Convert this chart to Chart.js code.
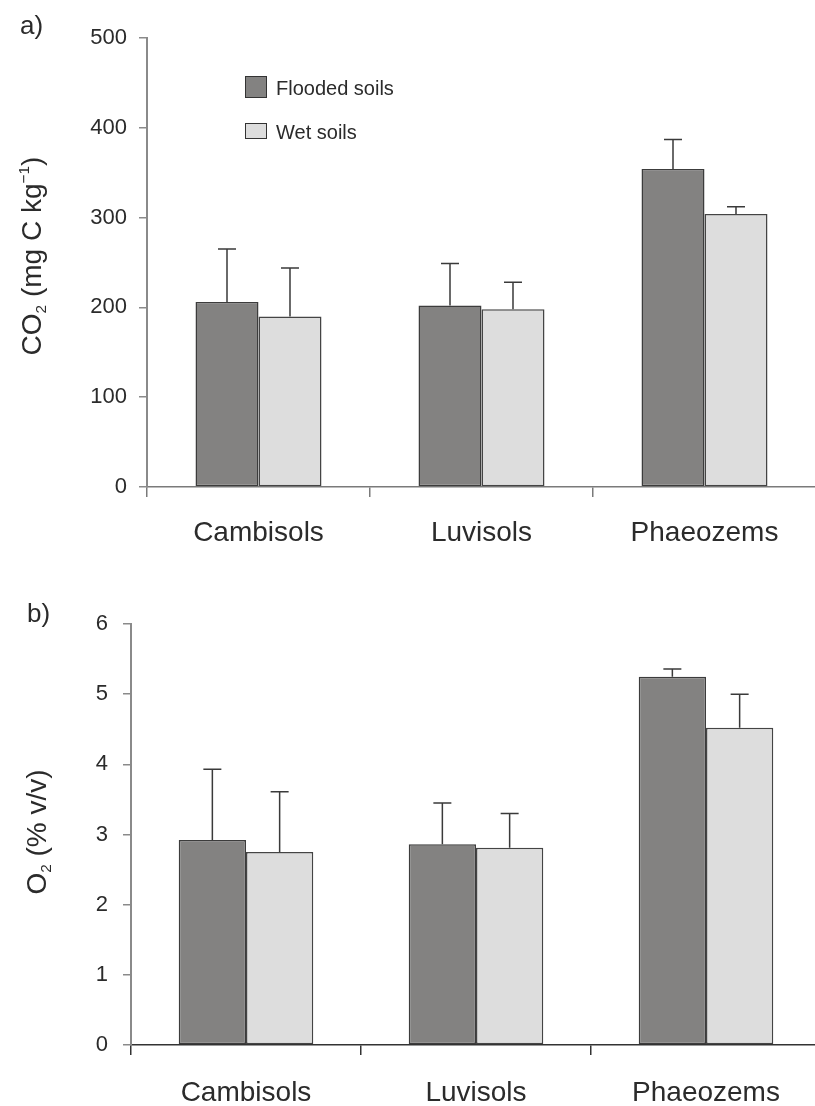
<!DOCTYPE html>
<html>
<head>
<meta charset="utf-8">
<title>CO2 y O2 en suelos</title>
<script src="https://cdn.jsdelivr.net/npm/chart.js@4.4.0/dist/chart.umd.min.js"></script>
<style>
    body { margin: 0; background: #fff; overflow: hidden; }
    canvas { position: absolute; left: 0; }
    #graficaCO2 { top: 0; }
    #graficaO2 { top: 565px; }
</style>
</head>
<body>
<canvas id="graficaCO2" width="816" height="565"></canvas>
<canvas id="graficaO2" width="821" height="541"></canvas>
<script>
const categorias = ["Cambisols", "Luvisols", "Phaeozems"];
const series = ["Flooded soils", "Wet soils"];

// CO2 (mg C kg-1), media y desviacion
const co2Inundado = [206, 202, 354];
const co2InundadoDE = [59, 47, 33];
const co2Humedo = [190, 198, 304];
const co2HumedoDE = [54, 30, 8];
const co2Ticks = [0, 100, 200, 300, 400, 500];

// O2 (% v/v), media y desviacion
const o2Inundado = [2.92, 2.86, 5.25];
const o2InundadoDE = [1.01, 0.59, 0.11];
const o2Humedo = [2.75, 2.81, 4.52];
const o2HumedoDE = [0.86, 0.49, 0.48];
const o2Ticks = [0, 1, 2, 3, 4, 5, 6];

const colorInundado = "#838281";
const colorHumedo = "#dddddd";
const colorTexto = "#2b2b2b";
const fuente = 'Arial, "Liberation Sans", sans-serif';

// barras de error (solo hacia arriba)
const barrasError = {
    id: "barrasError",
    afterDatasetsDraw(chart) {
        const ctx = chart.ctx;
        const y = chart.scales.y;
        ctx.save();
        ctx.strokeStyle = "#3a3a3a";
        ctx.lineWidth = 1.5;
        chart.data.datasets.forEach((ds, i) => {
            chart.getDatasetMeta(i).data.forEach((barra, j) => {
                const arriba = y.getPixelForValue(ds.data[j] + ds.errores[j]);
                ctx.beginPath();
                ctx.moveTo(barra.x, barra.y);
                ctx.lineTo(barra.x, arriba);
                ctx.moveTo(barra.x - 9, arriba);
                ctx.lineTo(barra.x + 9, arriba);
                ctx.stroke();
            });
        });
        ctx.restore();
    }
};

// texto con subindices y superindices, centrado en (0,0)
function textoRico(ctx, partes, size) {
    let total = 0;
    const medidas = partes.map(p => {
        const s = (p.sub || p.sup) ? size * 0.55 : size;
        ctx.font = s + "px " + fuente;
        const w = ctx.measureText(p.t).width;
        total += w;
        return { t: p.t, sub: p.sub, sup: p.sup, s: s, w: w };
    });
    let x = -total / 2;
    const base = size * 0.36;
    ctx.textBaseline = "alphabetic";
    ctx.textAlign = "left";
    for (const p of medidas) {
        ctx.font = p.s + "px " + fuente;
        let dy = base;
        if (p.sub) dy = base + size * 0.18;
        if (p.sup) dy = base - size * 0.42;
        ctx.fillText(p.t, x, dy);
        x += p.w;
    }
}

// letra del panel, titulo del eje y leyenda
const textos = {
    id: "textos",
    afterDraw(chart, args, opts) {
        const ctx = chart.ctx;
        ctx.save();
        ctx.fillStyle = colorTexto;
        ctx.font = "26px " + fuente;
        ctx.textBaseline = "alphabetic";
        ctx.fillText(opts.letra, opts.letraX, opts.letraY);

        ctx.save();
        ctx.translate(opts.tituloX, opts.tituloY);
        ctx.rotate(-Math.PI / 2);
        textoRico(ctx, opts.titulo, 28);
        ctx.restore();

        if (opts.leyenda) {
            const cajas = [
                { y: 76, h: 22, texto: 94.5 },
                { y: 123, h: 16, texto: 138.5 }
            ];
            chart.data.datasets.forEach((ds, i) => {
                const c = cajas[i];
                ctx.fillStyle = ds.backgroundColor;
                ctx.fillRect(245, c.y, 22, c.h);
                ctx.strokeStyle = "#333";
                ctx.lineWidth = 1;
                ctx.strokeRect(245.5, c.y + 0.5, 21, c.h - 1);
                ctx.fillStyle = colorTexto;
                ctx.font = "20px " + fuente;
                ctx.fillText(ds.label, 276, c.texto);
            });
        }
        ctx.restore();
    }
};

function crearGrafica(id, d) {
    return new Chart(document.getElementById(id), {
        type: "bar",
        data: {
            labels: categorias,
            datasets: [
                {
                    label: series[0],
                    data: d.inundado,
                    errores: d.inundadoDE,
                    backgroundColor: colorInundado,
                    borderColor: "#3c3c3c",
                    borderWidth: 1.5,
                    borderSkipped: false
                },
                {
                    label: series[1],
                    data: d.humedo,
                    errores: d.humedoDE,
                    backgroundColor: colorHumedo,
                    borderColor: "#444",
                    borderWidth: 1.5,
                    borderSkipped: false
                }
            ]
        },
        options: {
            responsive: false,
            animation: false,
            layout: { padding: { top: d.arriba, left: 0, right: 0, bottom: 0 } },
            datasets: { bar: { categoryPercentage: d.grupo, barPercentage: 1 } },
            plugins: {
                legend: { display: false },
                tooltip: { enabled: false },
                textos: d.textos
            },
            scales: {
                x: {
                    grid: { offset: true, drawOnChartArea: false, tickLength: 10, color: d.colorEjeX, lineWidth: 1.5 },
                    border: { color: d.colorEjeX, width: 1.5 },
                    ticks: { color: colorTexto, font: { family: fuente, size: 28 }, padding: d.padX, maxRotation: 0 },
                    afterFit: s => { s.height = d.altoX; }
                },
                y: {
                    min: 0,
                    max: d.ticks[d.ticks.length - 1],
                    afterBuildTicks: s => { s.ticks = d.ticks.map(v => ({ value: v })); },
                    grid: { drawOnChartArea: false, tickLength: 8, color: "#8a8a8a", lineWidth: 1.5 },
                    border: { color: "#8a8a8a", width: 2 },
                    ticks: { color: colorTexto, font: { family: fuente, size: 22 }, padding: d.padY },
                    afterFit: s => { s.width = d.anchoY; }
                }
            }
        },
        plugins: [barrasError, textos]
    });
}

crearGrafica("graficaCO2", {
    inundado: co2Inundado,
    inundadoDE: co2InundadoDE,
    humedo: co2Humedo,
    humedoDE: co2HumedoDE,
    ticks: co2Ticks,
    arriba: 38,
    anchoY: 147,
    altoX: 78,
    grupo: 0.565,
    padX: 19,
    padY: 12,
    colorEjeX: "#7a7a7a",
    textos: {
        letra: "a)", letraX: 20, letraY: 34,
        tituloX: 31, tituloY: 256,
        titulo: [{ t: "CO" }, { t: "2", sub: true }, { t: " (mg C kg" }, { t: "\u22121", sup: true }, { t: ")" }],
        leyenda: true
    }
});

crearGrafica("graficaO2", {
    inundado: o2Inundado,
    inundadoDE: o2InundadoDE,
    humedo: o2Humedo,
    humedoDE: o2HumedoDE,
    ticks: o2Ticks,
    arriba: 59,
    anchoY: 131,
    altoX: 61,
    grupo: 0.585,
    padX: 21,
    padY: 15,
    colorEjeX: "#333333",
    textos: {
        letra: "b)", letraX: 27, letraY: 57,
        tituloX: 36, tituloY: 267,
        titulo: [{ t: "O" }, { t: "2", sub: true }, { t: " (% v/v)" }],
        leyenda: false
    }
});
</script>
</body>
</html>
